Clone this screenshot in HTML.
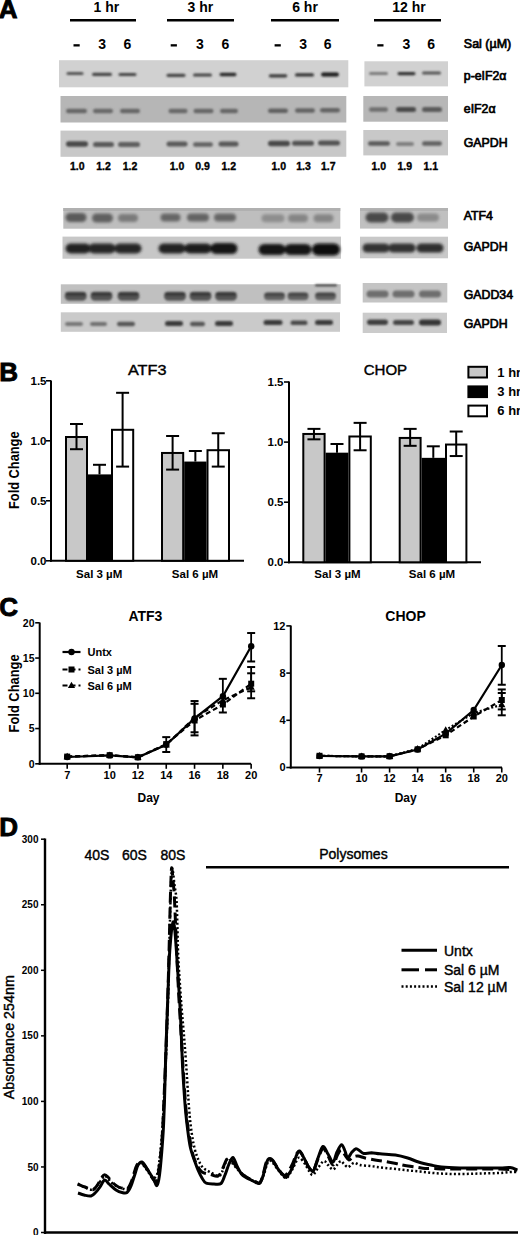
<!DOCTYPE html>
<html><head><meta charset="utf-8"><title>Figure</title>
<style>
html,body{margin:0;padding:0;background:#fff;}
body{width:520px;height:1235px;overflow:hidden;}
svg{display:block;}
text{font-family:"Liberation Sans",sans-serif;fill:#000;}
.h{stroke:#000;stroke-width:0.4px;}
</style></head><body>
<svg width="520" height="1235" viewBox="0 0 520 1235">
<defs><filter id="bl" x="-20%" y="-100%" width="140%" height="300%"><feGaussianBlur stdDeviation="1.0"/></filter><filter id="bl2" x="-20%" y="-100%" width="140%" height="300%"><feGaussianBlur stdDeviation="1.7"/></filter></defs>
<text x="-1.3" y="17.6" font-size="26" font-weight="bold" text-anchor="start" stroke="#000" stroke-width="0.9">A</text>
<text x="106.3" y="11.5" font-size="14" font-weight="bold" text-anchor="middle" >1 hr</text>
<line x1="70" y1="20.3" x2="136" y2="20.3" stroke="#000" stroke-width="2.6" />
<text x="200.4" y="11.5" font-size="14" font-weight="bold" text-anchor="middle" >3 hr</text>
<line x1="167" y1="20.3" x2="234" y2="20.3" stroke="#000" stroke-width="2.6" />
<text x="305" y="11.5" font-size="14" font-weight="bold" text-anchor="middle" >6 hr</text>
<line x1="271" y1="20.3" x2="339" y2="20.3" stroke="#000" stroke-width="2.6" />
<text x="409" y="11.5" font-size="14" font-weight="bold" text-anchor="middle" >12 hr</text>
<line x1="374" y1="20.3" x2="441" y2="20.3" stroke="#000" stroke-width="2.6" />
<rect x="73.5" y="44.2" width="6.2" height="2.3" fill="#000" />
<text x="102.2" y="49" font-size="14" font-weight="bold" text-anchor="middle" >3</text>
<text x="127.5" y="49" font-size="14" font-weight="bold" text-anchor="middle" >6</text>
<rect x="170.70000000000002" y="44.2" width="6.2" height="2.3" fill="#000" />
<text x="200" y="49" font-size="14" font-weight="bold" text-anchor="middle" >3</text>
<text x="225.3" y="49" font-size="14" font-weight="bold" text-anchor="middle" >6</text>
<rect x="274.59999999999997" y="44.2" width="6.2" height="2.3" fill="#000" />
<text x="303.1" y="49" font-size="14" font-weight="bold" text-anchor="middle" >3</text>
<text x="327.7" y="49" font-size="14" font-weight="bold" text-anchor="middle" >6</text>
<rect x="377.29999999999995" y="44.2" width="6.2" height="2.3" fill="#000" />
<text x="406.5" y="49" font-size="14" font-weight="bold" text-anchor="middle" >3</text>
<text x="431.2" y="49" font-size="14" font-weight="bold" text-anchor="middle" >6</text>
<text x="463.8" y="47.5" font-size="12.5" font-weight="normal" text-anchor="start" class="h" style="stroke-width:0.7px">Sal (µM)</text>
<rect x="59" y="60.2" width="289.3" height="27.1" fill="#d1d1d1" />
<rect x="364.4" y="61.3" width="83.6" height="25.1" fill="#d1d1d1" />
<rect x="60.5" y="96" width="285.8" height="26.5" fill="#b6b6b6" />
<rect x="363.3" y="96" width="84.7" height="25.7" fill="#b7b7b7" />
<rect x="60.5" y="130.6" width="285.8" height="26.2" fill="#c8c8c8" />
<rect x="363.3" y="130" width="84.7" height="25.4" fill="#c8c8c8" />
<rect x="63.3" y="208" width="277.0" height="20.7" fill="#bebebe" />
<rect x="360" y="208" width="88" height="20.6" fill="#c0c0c0" />
<rect x="62.5" y="236.6" width="278.5" height="22.1" fill="#c7c7c7" />
<rect x="360" y="236.7" width="88" height="21.6" fill="#c8c8c8" />
<rect x="60.8" y="284.3" width="279.9" height="19.5" fill="#c0c0c0" />
<rect x="362.7" y="283" width="84.6" height="19.5" fill="#c4c4c4" />
<rect x="60.8" y="312.3" width="279.2" height="19.5" fill="#cacaca" />
<rect x="362.7" y="312.7" width="84.3" height="20.3" fill="#cbcbcb" />
<rect x="63.3" y="208" width="277" height="3" fill="#b0b0b0" />
<rect x="360" y="208" width="88" height="3" fill="#b2b2b2" />
<g filter="url(#bl)">
<rect x="66.5" y="72.0" width="17" height="3" rx="1.5" fill="#555555"/>
<rect x="92.0" y="72.7" width="20" height="3.2" rx="1.6" fill="#444444"/>
<rect x="118.5" y="72.9" width="18" height="3.2" rx="1.6" fill="#444444"/>
<rect x="166.5" y="73.7" width="19" height="3.2" rx="1.6" fill="#454545"/>
<rect x="193.0" y="73.4" width="19" height="3.2" rx="1.6" fill="#454545"/>
<rect x="219.5" y="72.7" width="17" height="3.6" rx="1.8" fill="#2a2a2a"/>
<rect x="268.8" y="74.2" width="18.5" height="3.2" rx="1.6" fill="#3a3a3a"/>
<rect x="295.0" y="73.3" width="19" height="3.2" rx="1.6" fill="#353535"/>
<rect x="321.0" y="72.5" width="18" height="4" rx="2.0" fill="#1a1a1a"/>
<rect x="369.0" y="72.1" width="19" height="3" rx="1.5" fill="#7a7a7a"/>
<rect x="397.5" y="71.9" width="18" height="3.4" rx="1.7" fill="#333333"/>
<rect x="422.0" y="71.5" width="19" height="3" rx="1.5" fill="#555555"/>
<rect x="66.0" y="108.8" width="21" height="4.5" rx="2.2" fill="#666666"/>
<rect x="93.0" y="108.8" width="20" height="4.5" rx="2.2" fill="#686868"/>
<rect x="120.0" y="108.8" width="20" height="4.5" rx="2.2" fill="#666666"/>
<rect x="168.5" y="108.8" width="19" height="4.5" rx="2.2" fill="#686868"/>
<rect x="193.5" y="108.8" width="20" height="4.5" rx="2.2" fill="#666666"/>
<rect x="220.0" y="108.8" width="18" height="4.5" rx="2.2" fill="#666666"/>
<rect x="268.0" y="108.5" width="20" height="4.5" rx="2.2" fill="#606060"/>
<rect x="295.0" y="108.2" width="20" height="4.5" rx="2.2" fill="#646464"/>
<rect x="320.0" y="108.0" width="20" height="4.5" rx="2.2" fill="#646464"/>
<rect x="369.0" y="107.2" width="19" height="4.5" rx="2.2" fill="#6e6e6e"/>
<rect x="396.0" y="107.0" width="20" height="5" rx="2.5" fill="#4a4a4a"/>
<rect x="422.0" y="107.0" width="20" height="5" rx="2.5" fill="#5a5a5a"/>
<rect x="66.0" y="141.2" width="22" height="5.5" rx="2.8" fill="#4a4a4a"/>
<rect x="93.0" y="142.0" width="21" height="5" rx="2.5" fill="#5a5a5a"/>
<rect x="118.0" y="142.0" width="22" height="5" rx="2.5" fill="#5e5e5e"/>
<rect x="166.5" y="141.5" width="21" height="5" rx="2.5" fill="#5a5a5a"/>
<rect x="193.0" y="142.2" width="20" height="4.5" rx="2.2" fill="#646464"/>
<rect x="218.5" y="141.5" width="20" height="5" rx="2.5" fill="#585858"/>
<rect x="268.0" y="140.8" width="22" height="5.5" rx="2.8" fill="#4a4a4a"/>
<rect x="292.0" y="140.8" width="22" height="5" rx="2.5" fill="#525252"/>
<rect x="318.0" y="140.5" width="22" height="5" rx="2.5" fill="#525252"/>
<rect x="368.0" y="141.3" width="22" height="4.5" rx="2.2" fill="#5a5a5a"/>
<rect x="396.0" y="142.0" width="18" height="4" rx="2.0" fill="#808080"/>
<rect x="422.0" y="141.3" width="20" height="4.5" rx="2.2" fill="#626262"/>
<rect x="64.7" y="291.7" width="22" height="9" rx="4.5" fill="#555555"/>
<rect x="65.2" y="292.2" width="21" height="3.5" rx="1.8" fill="#383838"/>
<rect x="90.5" y="291.7" width="22" height="9" rx="4.5" fill="#555555"/>
<rect x="91.0" y="292.2" width="21" height="3.5" rx="1.8" fill="#383838"/>
<rect x="117.5" y="291.7" width="22" height="9" rx="4.5" fill="#555555"/>
<rect x="118.0" y="292.2" width="21" height="3.5" rx="1.8" fill="#383838"/>
<rect x="164.0" y="291.7" width="22" height="9" rx="4.5" fill="#555555"/>
<rect x="164.5" y="292.2" width="21" height="3.5" rx="1.8" fill="#383838"/>
<rect x="189.5" y="291.7" width="22" height="9" rx="4.5" fill="#555555"/>
<rect x="190.0" y="292.2" width="21" height="3.5" rx="1.8" fill="#383838"/>
<rect x="215.0" y="291.7" width="22" height="9" rx="4.5" fill="#555555"/>
<rect x="215.5" y="292.2" width="21" height="3.5" rx="1.8" fill="#383838"/>
<rect x="264.0" y="292.3" width="21" height="8" rx="4.0" fill="#606060"/>
<rect x="264.5" y="293.0" width="20" height="3" rx="1.5" fill="#454545"/>
<rect x="287.5" y="292.3" width="21" height="8" rx="4.0" fill="#606060"/>
<rect x="288.0" y="293.0" width="20" height="3" rx="1.5" fill="#454545"/>
<rect x="315.0" y="292.3" width="21" height="8" rx="4.0" fill="#606060"/>
<rect x="315.5" y="293.0" width="20" height="3" rx="1.5" fill="#454545"/>
<rect x="315.0" y="284.4" width="22" height="1.8" rx="0.9" fill="#2a2a2a"/>
<rect x="366.5" y="290.5" width="22" height="7" rx="3.5" fill="#6e6e6e"/>
<rect x="392.5" y="290.5" width="22" height="7" rx="3.5" fill="#6e6e6e"/>
<rect x="419.0" y="290.5" width="22" height="7" rx="3.5" fill="#6e6e6e"/>
<rect x="65.0" y="322.0" width="18" height="4" rx="2.0" fill="#777777"/>
<rect x="90.0" y="322.0" width="17" height="4" rx="2.0" fill="#707070"/>
<rect x="117.0" y="321.8" width="18" height="4.5" rx="2.2" fill="#555555"/>
<rect x="165.0" y="321.0" width="18" height="5" rx="2.5" fill="#3a3a3a"/>
<rect x="190.0" y="321.8" width="15" height="4.5" rx="2.2" fill="#555555"/>
<rect x="215.0" y="321.0" width="18" height="5" rx="2.5" fill="#3a3a3a"/>
<rect x="263.5" y="319.9" width="19" height="5" rx="2.5" fill="#3a3a3a"/>
<rect x="290.5" y="320.6" width="17" height="4.5" rx="2.2" fill="#4a4a4a"/>
<rect x="315.0" y="319.9" width="18" height="5" rx="2.5" fill="#3a3a3a"/>
<rect x="367.0" y="319.6" width="21" height="5.5" rx="2.8" fill="#404040"/>
<rect x="393.0" y="320.1" width="21" height="5" rx="2.5" fill="#454545"/>
<rect x="419.0" y="319.6" width="22" height="6" rx="3.0" fill="#353535"/>
</g>
<g filter="url(#bl2)">
<rect x="65.5" y="213.0" width="21" height="9" rx="4.5" fill="#5a5a5a"/>
<rect x="92.0" y="213.5" width="21" height="9" rx="4.5" fill="#606060"/>
<rect x="118.0" y="214.0" width="20" height="8" rx="4.0" fill="#7a7a7a"/>
<rect x="160.5" y="213.5" width="20" height="8" rx="4.0" fill="#666666"/>
<rect x="187.0" y="213.5" width="22" height="8" rx="4.0" fill="#646464"/>
<rect x="214.0" y="213.5" width="22" height="8" rx="4.0" fill="#666666"/>
<rect x="261.5" y="214.3" width="23" height="8" rx="4.0" fill="#8e8e8e"/>
<rect x="288.0" y="214.3" width="20" height="8" rx="4.0" fill="#858585"/>
<rect x="313.5" y="214.3" width="20" height="8" rx="4.0" fill="#858585"/>
<rect x="365.5" y="212.5" width="23" height="10" rx="5.0" fill="#4a4a4a"/>
<rect x="391.0" y="212.5" width="23" height="10" rx="5.0" fill="#4a4a4a"/>
<rect x="417.0" y="213.5" width="22" height="8" rx="4.0" fill="#8a8a8a"/>
<rect x="65.5" y="243.5" width="25" height="10" rx="5.0" fill="#222222"/>
<rect x="88.5" y="243.5" width="27" height="10" rx="5.0" fill="#252525"/>
<rect x="114.5" y="243.5" width="27" height="10" rx="5.0" fill="#252525"/>
<rect x="158.5" y="243.5" width="27" height="10" rx="5.0" fill="#222222"/>
<rect x="184.5" y="243.5" width="27" height="10" rx="5.0" fill="#1e1e1e"/>
<rect x="210.5" y="243.0" width="27" height="11" rx="5.5" fill="#181818"/>
<rect x="258.5" y="244.0" width="27" height="11" rx="5.5" fill="#161616"/>
<rect x="284.5" y="244.0" width="27" height="11" rx="5.5" fill="#121212"/>
<rect x="312.0" y="243.5" width="28" height="12" rx="6.0" fill="#080808"/>
<rect x="362.5" y="243.5" width="27" height="9" rx="4.5" fill="#333333"/>
<rect x="388.5" y="243.5" width="27" height="9" rx="4.5" fill="#333333"/>
<rect x="416.5" y="243.5" width="27" height="9" rx="4.5" fill="#2e2e2e"/>
</g>
<text x="463.8" y="79.75" font-size="12.3" font-weight="normal" text-anchor="start" class="h" style="stroke-width:0.7px">p-eIF2α</text>
<text x="463.8" y="113.1" font-size="12.3" font-weight="normal" text-anchor="start" class="h" style="stroke-width:0.7px">eIF2α</text>
<text x="463.8" y="146.9" font-size="12.3" font-weight="normal" text-anchor="start" class="h" style="stroke-width:0.7px">GAPDH</text>
<text x="463.8" y="219.8" font-size="12.3" font-weight="normal" text-anchor="start" class="h" style="stroke-width:0.7px">ATF4</text>
<text x="463.8" y="251.3" font-size="12.3" font-weight="normal" text-anchor="start" class="h" style="stroke-width:0.7px">GAPDH</text>
<text x="463.8" y="299.4" font-size="12.3" font-weight="normal" text-anchor="start" class="h" style="stroke-width:0.7px">GADD34</text>
<text x="463.8" y="327.5" font-size="12.3" font-weight="normal" text-anchor="start" class="h" style="stroke-width:0.7px">GAPDH</text>
<text x="77.3" y="170" font-size="10.5" font-weight="bold" text-anchor="middle" stroke="#000" stroke-width="0.35">1.0</text>
<text x="103.5" y="170" font-size="10.5" font-weight="bold" text-anchor="middle" stroke="#000" stroke-width="0.35">1.2</text>
<text x="130" y="170" font-size="10.5" font-weight="bold" text-anchor="middle" stroke="#000" stroke-width="0.35">1.2</text>
<text x="177" y="170" font-size="10.5" font-weight="bold" text-anchor="middle" stroke="#000" stroke-width="0.35">1.0</text>
<text x="202.6" y="170" font-size="10.5" font-weight="bold" text-anchor="middle" stroke="#000" stroke-width="0.35">0.9</text>
<text x="228.7" y="170" font-size="10.5" font-weight="bold" text-anchor="middle" stroke="#000" stroke-width="0.35">1.2</text>
<text x="278.7" y="170" font-size="10.5" font-weight="bold" text-anchor="middle" stroke="#000" stroke-width="0.35">1.0</text>
<text x="303.6" y="170" font-size="10.5" font-weight="bold" text-anchor="middle" stroke="#000" stroke-width="0.35">1.3</text>
<text x="328.2" y="170" font-size="10.5" font-weight="bold" text-anchor="middle" stroke="#000" stroke-width="0.35">1.7</text>
<text x="378.7" y="170" font-size="10.5" font-weight="bold" text-anchor="middle" stroke="#000" stroke-width="0.35">1.0</text>
<text x="404.8" y="170" font-size="10.5" font-weight="bold" text-anchor="middle" stroke="#000" stroke-width="0.35">1.9</text>
<text x="430.8" y="170" font-size="10.5" font-weight="bold" text-anchor="middle" stroke="#000" stroke-width="0.35">1.1</text>
<text x="-0.8" y="380.7" font-size="26" font-weight="bold" text-anchor="start" stroke="#000" stroke-width="0.9">B</text>
<line x1="51" y1="380.5" x2="51" y2="561.8" stroke="#000" stroke-width="2" />
<line x1="50" y1="560.8" x2="244" y2="560.8" stroke="#000" stroke-width="2" />
<line x1="46" y1="560.8" x2="51" y2="560.8" stroke="#000" stroke-width="1.6" />
<text x="46.5" y="564.9" font-size="11.5" font-weight="bold" text-anchor="end" >0.0</text>
<line x1="46" y1="500.79999999999995" x2="51" y2="500.79999999999995" stroke="#000" stroke-width="1.6" />
<text x="46.5" y="504.9" font-size="11.5" font-weight="bold" text-anchor="end" >0.5</text>
<line x1="46" y1="440.79999999999995" x2="51" y2="440.79999999999995" stroke="#000" stroke-width="1.6" />
<text x="46.5" y="444.9" font-size="11.5" font-weight="bold" text-anchor="end" >1.0</text>
<line x1="46" y1="380.79999999999995" x2="51" y2="380.79999999999995" stroke="#000" stroke-width="1.6" />
<text x="46.5" y="384.9" font-size="11.5" font-weight="bold" text-anchor="end" >1.5</text>
<rect x="66" y="436.99999999999994" width="21" height="123.80000000000001" fill="#c8c8c8" stroke="#000" stroke-width="2"/>
<line x1="76.5" y1="424.0" x2="76.5" y2="449.19999999999993" stroke="#000" stroke-width="2" />
<line x1="70.0" y1="424.0" x2="83.0" y2="424.0" stroke="#000" stroke-width="2" />
<line x1="70.0" y1="449.19999999999993" x2="83.0" y2="449.19999999999993" stroke="#000" stroke-width="2" />
<rect x="89" y="475.4" width="21" height="85.39999999999998" fill="#000" stroke="#000" stroke-width="2"/>
<line x1="99.5" y1="464.79999999999995" x2="99.5" y2="474.4" stroke="#000" stroke-width="2" />
<line x1="93.0" y1="464.79999999999995" x2="106.0" y2="464.79999999999995" stroke="#000" stroke-width="2" />
<rect x="112" y="429.79999999999995" width="21.19999999999999" height="131.0" fill="#fff" stroke="#000" stroke-width="2"/>
<line x1="122.6" y1="392.79999999999995" x2="122.6" y2="466.59999999999997" stroke="#000" stroke-width="2" />
<line x1="116.1" y1="392.79999999999995" x2="129.1" y2="392.79999999999995" stroke="#000" stroke-width="2" />
<line x1="116.1" y1="466.59999999999997" x2="129.1" y2="466.59999999999997" stroke="#000" stroke-width="2" />
<rect x="162" y="452.9599999999999" width="21.19999999999999" height="107.84000000000003" fill="#c8c8c8" stroke="#000" stroke-width="2"/>
<line x1="172.6" y1="435.99999999999994" x2="172.6" y2="469.59999999999997" stroke="#000" stroke-width="2" />
<line x1="166.1" y1="435.99999999999994" x2="179.1" y2="435.99999999999994" stroke="#000" stroke-width="2" />
<line x1="166.1" y1="469.59999999999997" x2="179.1" y2="469.59999999999997" stroke="#000" stroke-width="2" />
<rect x="185.2" y="462.55999999999995" width="20.30000000000001" height="98.24000000000001" fill="#000" stroke="#000" stroke-width="2"/>
<line x1="195.35" y1="450.99999999999994" x2="195.35" y2="461.55999999999995" stroke="#000" stroke-width="2" />
<line x1="188.85" y1="450.99999999999994" x2="201.85" y2="450.99999999999994" stroke="#000" stroke-width="2" />
<rect x="207.5" y="450.19999999999993" width="21.5" height="110.60000000000002" fill="#fff" stroke="#000" stroke-width="2"/>
<line x1="218.25" y1="433.23999999999995" x2="218.25" y2="466.59999999999997" stroke="#000" stroke-width="2" />
<line x1="211.75" y1="433.23999999999995" x2="224.75" y2="433.23999999999995" stroke="#000" stroke-width="2" />
<line x1="211.75" y1="466.59999999999997" x2="224.75" y2="466.59999999999997" stroke="#000" stroke-width="2" />
<text x="147.2" y="374.5" font-size="14.5" font-weight="normal" text-anchor="middle" class="h" textLength="38.5" lengthAdjust="spacingAndGlyphs">ATF3</text>
<text x="99.2" y="577.8" font-size="11.5" font-weight="bold" text-anchor="middle" >Sal 3 µM</text>
<text x="195" y="577.8" font-size="11.5" font-weight="bold" text-anchor="middle" >Sal 6 µM</text>
<line x1="289" y1="381.5" x2="289" y2="563.3" stroke="#000" stroke-width="2" />
<line x1="288" y1="562.3" x2="481" y2="562.3" stroke="#000" stroke-width="2" />
<line x1="284" y1="562.3" x2="289" y2="562.3" stroke="#000" stroke-width="1.6" />
<text x="283.5" y="566.4" font-size="11.5" font-weight="bold" text-anchor="end" >0.0</text>
<line x1="284" y1="502.19999999999993" x2="289" y2="502.19999999999993" stroke="#000" stroke-width="1.6" />
<text x="283.5" y="506.29999999999995" font-size="11.5" font-weight="bold" text-anchor="end" >0.5</text>
<line x1="284" y1="442.09999999999997" x2="289" y2="442.09999999999997" stroke="#000" stroke-width="1.6" />
<text x="283.5" y="446.2" font-size="11.5" font-weight="bold" text-anchor="end" >1.0</text>
<line x1="284" y1="381.99999999999994" x2="289" y2="381.99999999999994" stroke="#000" stroke-width="1.6" />
<text x="283.5" y="386.09999999999997" font-size="11.5" font-weight="bold" text-anchor="end" >1.5</text>
<rect x="303.3" y="433.96479999999997" width="21.30000000000001" height="128.3352" fill="#c8c8c8" stroke="#000" stroke-width="2"/>
<line x1="313.95000000000005" y1="428.87799999999993" x2="313.95000000000005" y2="439.33539999999994" stroke="#000" stroke-width="2" />
<line x1="307.45000000000005" y1="428.87799999999993" x2="320.45000000000005" y2="428.87799999999993" stroke="#000" stroke-width="2" />
<line x1="307.45000000000005" y1="439.33539999999994" x2="320.45000000000005" y2="439.33539999999994" stroke="#000" stroke-width="2" />
<rect x="326.6" y="453.6775999999999" width="20.799999999999955" height="108.62240000000003" fill="#000" stroke="#000" stroke-width="2"/>
<line x1="337.0" y1="444.0232" x2="337.0" y2="452.6775999999999" stroke="#000" stroke-width="2" />
<line x1="330.5" y1="444.0232" x2="343.5" y2="444.0232" stroke="#000" stroke-width="2" />
<rect x="349.4" y="436.489" width="21.400000000000034" height="125.81099999999998" fill="#fff" stroke="#000" stroke-width="2"/>
<line x1="360.1" y1="422.86799999999994" x2="360.1" y2="450.27359999999993" stroke="#000" stroke-width="2" />
<line x1="353.6" y1="422.86799999999994" x2="366.6" y2="422.86799999999994" stroke="#000" stroke-width="2" />
<line x1="353.6" y1="450.27359999999993" x2="366.6" y2="450.27359999999993" stroke="#000" stroke-width="2" />
<rect x="399.7" y="437.93139999999994" width="20.900000000000034" height="124.36860000000001" fill="#c8c8c8" stroke="#000" stroke-width="2"/>
<line x1="410.15" y1="428.87799999999993" x2="410.15" y2="445.8262" stroke="#000" stroke-width="2" />
<line x1="403.65" y1="428.87799999999993" x2="416.65" y2="428.87799999999993" stroke="#000" stroke-width="2" />
<line x1="403.65" y1="445.8262" x2="416.65" y2="445.8262" stroke="#000" stroke-width="2" />
<rect x="422.6" y="458.84619999999995" width="21.399999999999977" height="103.4538" fill="#000" stroke="#000" stroke-width="2"/>
<line x1="433.3" y1="446.30699999999996" x2="433.3" y2="457.84619999999995" stroke="#000" stroke-width="2" />
<line x1="426.8" y1="446.30699999999996" x2="439.8" y2="446.30699999999996" stroke="#000" stroke-width="2" />
<rect x="446" y="444.54239999999993" width="20.399999999999977" height="117.75760000000002" fill="#fff" stroke="#000" stroke-width="2"/>
<line x1="456.2" y1="431.52239999999995" x2="456.2" y2="456.04319999999996" stroke="#000" stroke-width="2" />
<line x1="449.7" y1="431.52239999999995" x2="462.7" y2="431.52239999999995" stroke="#000" stroke-width="2" />
<line x1="449.7" y1="456.04319999999996" x2="462.7" y2="456.04319999999996" stroke="#000" stroke-width="2" />
<text x="385.4" y="374.5" font-size="14.5" font-weight="normal" text-anchor="middle" class="h" textLength="43.5" lengthAdjust="spacingAndGlyphs">CHOP</text>
<text x="337.5" y="577.8" font-size="11.5" font-weight="bold" text-anchor="middle" >Sal 3 µM</text>
<text x="432" y="577.8" font-size="11.5" font-weight="bold" text-anchor="middle" >Sal 6 µM</text>
<rect x="468.4" y="366.8" width="18.6" height="10.7" fill="#c8c8c8" stroke="#000" stroke-width="2"/>
<text x="497.3" y="376.5" font-size="13" font-weight="bold" text-anchor="start" >1 hr</text>
<rect x="468.4" y="386.4" width="18.6" height="10.7" fill="#000" stroke="#000" stroke-width="2"/>
<text x="497.3" y="396.2" font-size="13" font-weight="bold" text-anchor="start" >3 hr</text>
<rect x="468.4" y="405.6" width="18.6" height="10.7" fill="#fff" stroke="#000" stroke-width="2"/>
<text x="497.3" y="415.4" font-size="13" font-weight="bold" text-anchor="start" >6 hr</text>
<text x="0" y="0" font-size="14.6" font-weight="bold" transform="translate(19.3,470.2) rotate(-90)" text-anchor="middle" textLength="77.5" lengthAdjust="spacingAndGlyphs">Fold Change</text>
<text x="-0.8" y="615.5" font-size="26" font-weight="bold" text-anchor="start" stroke="#000" stroke-width="0.9">C</text>
<line x1="39.7" y1="622.5" x2="39.7" y2="764.8" stroke="#000" stroke-width="2" />
<line x1="38.7" y1="763.8" x2="251" y2="763.8" stroke="#000" stroke-width="2" />
<line x1="35.2" y1="763.8" x2="39.7" y2="763.8" stroke="#000" stroke-width="1.6" />
<text x="34.5" y="767.5799999999999" font-size="10.5" font-weight="bold" text-anchor="end" >0</text>
<line x1="35.2" y1="728.55" x2="39.7" y2="728.55" stroke="#000" stroke-width="1.6" />
<text x="34.5" y="732.3299999999999" font-size="10.5" font-weight="bold" text-anchor="end" >5</text>
<line x1="35.2" y1="693.3" x2="39.7" y2="693.3" stroke="#000" stroke-width="1.6" />
<text x="34.5" y="697.0799999999999" font-size="10.5" font-weight="bold" text-anchor="end" >10</text>
<line x1="35.2" y1="658.05" x2="39.7" y2="658.05" stroke="#000" stroke-width="1.6" />
<text x="34.5" y="661.8299999999999" font-size="10.5" font-weight="bold" text-anchor="end" >15</text>
<line x1="35.2" y1="622.8" x2="39.7" y2="622.8" stroke="#000" stroke-width="1.6" />
<text x="34.5" y="626.5799999999999" font-size="10.5" font-weight="bold" text-anchor="end" >20</text>
<line x1="67.2" y1="763.8" x2="67.2" y2="768.8" stroke="#000" stroke-width="1.6" />
<text x="67.2" y="778.5" font-size="11" font-weight="bold" text-anchor="middle" >7</text>
<line x1="109.65" y1="763.8" x2="109.65" y2="768.8" stroke="#000" stroke-width="1.6" />
<text x="109.65" y="778.5" font-size="11" font-weight="bold" text-anchor="middle" >10</text>
<line x1="137.95" y1="763.8" x2="137.95" y2="768.8" stroke="#000" stroke-width="1.6" />
<text x="137.95" y="778.5" font-size="11" font-weight="bold" text-anchor="middle" >12</text>
<line x1="166.25" y1="763.8" x2="166.25" y2="768.8" stroke="#000" stroke-width="1.6" />
<text x="166.25" y="778.5" font-size="11" font-weight="bold" text-anchor="middle" >14</text>
<line x1="194.55" y1="763.8" x2="194.55" y2="768.8" stroke="#000" stroke-width="1.6" />
<text x="194.55" y="778.5" font-size="11" font-weight="bold" text-anchor="middle" >16</text>
<line x1="222.85000000000002" y1="763.8" x2="222.85000000000002" y2="768.8" stroke="#000" stroke-width="1.6" />
<text x="222.85000000000002" y="778.5" font-size="11" font-weight="bold" text-anchor="middle" >18</text>
<line x1="251.15000000000003" y1="763.8" x2="251.15000000000003" y2="768.8" stroke="#000" stroke-width="1.6" />
<text x="251.15000000000003" y="778.5" font-size="11" font-weight="bold" text-anchor="middle" >20</text>
<text x="148.5" y="802" font-size="12" font-weight="bold" text-anchor="middle" >Day</text>
<text x="145.4" y="620.5" font-size="14" font-weight="bold" text-anchor="middle" >ATF3</text>
<polyline points="67.2,757.0 109.7,755.4 137.9,757.3 166.2,744.8 194.6,718.4 222.9,696.2 251.2,646.2" fill="none" stroke="#000" stroke-width="2.2" />
<circle cx="67.2" cy="757.0" r="3.2" fill="#000"/>
<circle cx="109.7" cy="755.4" r="3.2" fill="#000"/>
<circle cx="137.9" cy="757.3" r="3.2" fill="#000"/>
<circle cx="166.2" cy="744.8" r="3.2" fill="#000"/>
<circle cx="194.6" cy="718.4" r="3.2" fill="#000"/>
<circle cx="222.9" cy="696.2" r="3.2" fill="#000"/>
<circle cx="251.2" cy="646.2" r="3.2" fill="#000"/>
<polyline points="67.2,756.6 109.7,755.2 137.9,757.3 166.2,744.1 194.6,720.5 222.9,704.5 251.2,683.7" fill="none" stroke="#000" stroke-width="2.2" stroke-dasharray="5,3"/>
<rect x="64.2" y="753.6" width="6" height="6" fill="#000"/>
<rect x="106.7" y="752.2" width="6" height="6" fill="#000"/>
<rect x="134.9" y="754.3" width="6" height="6" fill="#000"/>
<rect x="163.2" y="741.1" width="6" height="6" fill="#000"/>
<rect x="191.6" y="717.5" width="6" height="6" fill="#000"/>
<rect x="219.9" y="701.5" width="6" height="6" fill="#000"/>
<rect x="248.2" y="680.7" width="6" height="6" fill="#000"/>
<polyline points="67.2,756.6 109.7,755.2 137.9,757.3 166.2,744.8 194.6,717.7 222.9,700.3 251.2,687.2" fill="none" stroke="#000" stroke-width="2.2" stroke-dasharray="5,3"/>
<polygon points="67.2,752.8 70.8,759.2 63.6,759.2" fill="#000"/>
<polygon points="109.7,751.4 113.2,757.8 106.1,757.8" fill="#000"/>
<polygon points="137.9,753.5 141.5,759.9 134.3,759.9" fill="#000"/>
<polygon points="166.2,741.0 169.8,747.4 162.7,747.4" fill="#000"/>
<polygon points="194.6,713.9 198.2,720.3 191.0,720.3" fill="#000"/>
<polygon points="222.9,696.5 226.5,702.9 219.3,702.9" fill="#000"/>
<polygon points="251.2,683.4 254.8,689.8 247.6,689.8" fill="#000"/>
<line x1="166.25" y1="751.9796" x2="166.25" y2="737.128" stroke="#000" stroke-width="1.8" />
<line x1="162.25" y1="751.9796" x2="170.25" y2="751.9796" stroke="#000" stroke-width="2" />
<line x1="162.25" y1="737.128" x2="170.25" y2="737.128" stroke="#000" stroke-width="2" />
<line x1="194.55" y1="732.27" x2="194.55" y2="701.04" stroke="#000" stroke-width="1.8" />
<line x1="190.55" y1="732.27" x2="198.55" y2="732.27" stroke="#000" stroke-width="2" />
<line x1="190.55" y1="701.04" x2="198.55" y2="701.04" stroke="#000" stroke-width="2" />
<line x1="194.55" y1="735.393" x2="194.55" y2="703.816" stroke="#000" stroke-width="1.8" />
<line x1="190.55" y1="735.393" x2="198.55" y2="735.393" stroke="#000" stroke-width="2" />
<line x1="190.55" y1="703.816" x2="198.55" y2="703.816" stroke="#000" stroke-width="2" />
<line x1="222.85000000000002" y1="712.491" x2="222.85000000000002" y2="678.832" stroke="#000" stroke-width="1.8" />
<line x1="218.85000000000002" y1="712.491" x2="226.85000000000002" y2="712.491" stroke="#000" stroke-width="2" />
<line x1="218.85000000000002" y1="678.832" x2="226.85000000000002" y2="678.832" stroke="#000" stroke-width="2" />
<line x1="251.15000000000003" y1="661.482" x2="251.15000000000003" y2="633.028" stroke="#000" stroke-width="1.8" />
<line x1="247.15000000000003" y1="661.482" x2="255.15000000000003" y2="661.482" stroke="#000" stroke-width="2" />
<line x1="247.15000000000003" y1="633.028" x2="255.15000000000003" y2="633.028" stroke="#000" stroke-width="2" />
<line x1="251.15000000000003" y1="691.324" x2="251.15000000000003" y2="667.034" stroke="#000" stroke-width="1.8" />
<line x1="247.15000000000003" y1="691.324" x2="255.15000000000003" y2="691.324" stroke="#000" stroke-width="2" />
<line x1="247.15000000000003" y1="667.034" x2="255.15000000000003" y2="667.034" stroke="#000" stroke-width="2" />
<line x1="251.15000000000003" y1="698.264" x2="251.15000000000003" y2="673.28" stroke="#000" stroke-width="1.8" />
<line x1="247.15000000000003" y1="698.264" x2="255.15000000000003" y2="698.264" stroke="#000" stroke-width="2" />
<line x1="247.15000000000003" y1="673.28" x2="255.15000000000003" y2="673.28" stroke="#000" stroke-width="2" />
<line x1="290.8" y1="625.5" x2="290.8" y2="768.5" stroke="#000" stroke-width="2" />
<line x1="289.8" y1="767.5" x2="502" y2="767.5" stroke="#000" stroke-width="2" />
<line x1="286.3" y1="767.5" x2="290.8" y2="767.5" stroke="#000" stroke-width="1.6" />
<text x="285.5" y="771.46" font-size="11" font-weight="bold" text-anchor="end" >0</text>
<line x1="286.3" y1="720.3" x2="290.8" y2="720.3" stroke="#000" stroke-width="1.6" />
<text x="285.5" y="724.26" font-size="11" font-weight="bold" text-anchor="end" >4</text>
<line x1="286.3" y1="673.1" x2="290.8" y2="673.1" stroke="#000" stroke-width="1.6" />
<text x="285.5" y="677.0600000000001" font-size="11" font-weight="bold" text-anchor="end" >8</text>
<line x1="286.3" y1="625.9" x2="290.8" y2="625.9" stroke="#000" stroke-width="1.6" />
<text x="285.5" y="629.86" font-size="11" font-weight="bold" text-anchor="end" >12</text>
<line x1="319.5" y1="767.5" x2="319.5" y2="772.5" stroke="#000" stroke-width="1.6" />
<text x="319.5" y="782.2" font-size="11" font-weight="bold" text-anchor="middle" >7</text>
<line x1="361.56" y1="767.5" x2="361.56" y2="772.5" stroke="#000" stroke-width="1.6" />
<text x="361.56" y="782.2" font-size="11" font-weight="bold" text-anchor="middle" >10</text>
<line x1="389.6" y1="767.5" x2="389.6" y2="772.5" stroke="#000" stroke-width="1.6" />
<text x="389.6" y="782.2" font-size="11" font-weight="bold" text-anchor="middle" >12</text>
<line x1="417.64" y1="767.5" x2="417.64" y2="772.5" stroke="#000" stroke-width="1.6" />
<text x="417.64" y="782.2" font-size="11" font-weight="bold" text-anchor="middle" >14</text>
<line x1="445.68" y1="767.5" x2="445.68" y2="772.5" stroke="#000" stroke-width="1.6" />
<text x="445.68" y="782.2" font-size="11" font-weight="bold" text-anchor="middle" >16</text>
<line x1="473.72" y1="767.5" x2="473.72" y2="772.5" stroke="#000" stroke-width="1.6" />
<text x="473.72" y="782.2" font-size="11" font-weight="bold" text-anchor="middle" >18</text>
<line x1="501.76" y1="767.5" x2="501.76" y2="772.5" stroke="#000" stroke-width="1.6" />
<text x="501.76" y="782.2" font-size="11" font-weight="bold" text-anchor="middle" >20</text>
<text x="405.7" y="802" font-size="12" font-weight="bold" text-anchor="middle" >Day</text>
<text x="405.6" y="620.5" font-size="14" font-weight="bold" text-anchor="middle" >CHOP</text>
<polyline points="319.5,756.0 361.6,756.4 389.6,756.3 417.6,749.5 445.7,733.7 473.7,710.0 501.8,665.0" fill="none" stroke="#000" stroke-width="2.2" />
<circle cx="319.5" cy="756.0" r="3.2" fill="#000"/>
<circle cx="361.6" cy="756.4" r="3.2" fill="#000"/>
<circle cx="389.6" cy="756.3" r="3.2" fill="#000"/>
<circle cx="417.6" cy="749.5" r="3.2" fill="#000"/>
<circle cx="445.7" cy="733.7" r="3.2" fill="#000"/>
<circle cx="473.7" cy="710.0" r="3.2" fill="#000"/>
<circle cx="501.8" cy="665.0" r="3.2" fill="#000"/>
<polyline points="319.5,755.8 361.6,756.4 389.6,756.3 417.6,749.4 445.7,735.3 473.7,716.5 501.8,700.0" fill="none" stroke="#000" stroke-width="2.2" stroke-dasharray="5,3"/>
<rect x="316.5" y="752.8" width="6" height="6" fill="#000"/>
<rect x="358.6" y="753.4" width="6" height="6" fill="#000"/>
<rect x="386.6" y="753.3" width="6" height="6" fill="#000"/>
<rect x="414.6" y="746.4" width="6" height="6" fill="#000"/>
<rect x="442.7" y="732.3" width="6" height="6" fill="#000"/>
<rect x="470.7" y="713.5" width="6" height="6" fill="#000"/>
<rect x="498.8" y="697.0" width="6" height="6" fill="#000"/>
<polyline points="319.5,755.8 361.6,756.4 389.6,756.3 417.6,748.8 445.7,730.0 473.7,713.0 501.8,704.7" fill="none" stroke="#000" stroke-width="2.2" stroke-dasharray="2,2"/>
<polygon points="319.5,752.0 323.1,758.4 315.9,758.4" fill="#000"/>
<polygon points="361.6,752.6 365.2,759.0 358.0,759.0" fill="#000"/>
<polygon points="389.6,752.5 393.2,758.9 386.0,758.9" fill="#000"/>
<polygon points="417.6,745.0 421.2,751.4 414.0,751.4" fill="#000"/>
<polygon points="445.7,726.2 449.3,732.6 442.1,732.6" fill="#000"/>
<polygon points="473.7,709.2 477.3,715.6 470.1,715.6" fill="#000"/>
<polygon points="501.8,700.9 505.4,707.3 498.2,707.3" fill="#000"/>
<line x1="501.76" y1="684.75" x2="501.76" y2="645.975" stroke="#000" stroke-width="1.8" />
<line x1="497.76" y1="684.75" x2="505.76" y2="684.75" stroke="#000" stroke-width="2" />
<line x1="497.76" y1="645.975" x2="505.76" y2="645.975" stroke="#000" stroke-width="2" />
<line x1="501.76" y1="709.425" x2="501.76" y2="689.45" stroke="#000" stroke-width="1.8" />
<line x1="497.76" y1="709.425" x2="505.76" y2="709.425" stroke="#000" stroke-width="2" />
<line x1="497.76" y1="689.45" x2="505.76" y2="689.45" stroke="#000" stroke-width="2" />
<line x1="501.76" y1="715.3" x2="501.76" y2="692.975" stroke="#000" stroke-width="1.8" />
<line x1="497.76" y1="715.3" x2="505.76" y2="715.3" stroke="#000" stroke-width="2" />
<line x1="497.76" y1="692.975" x2="505.76" y2="692.975" stroke="#000" stroke-width="2" />
<line x1="62.5" y1="652" x2="80.5" y2="652" stroke="#000" stroke-width="2.2" />
<circle cx="71.5" cy="652" r="3.2" fill="#000"/>
<text x="87.5" y="656" font-size="11" font-weight="bold" text-anchor="start" >Untx</text>
<line x1="62.5" y1="669.5" x2="80.5" y2="669.5" stroke="#000" stroke-width="2.2" stroke-dasharray="5,3"/>
<rect x="68.5" y="666.5" width="6" height="6" fill="#000"/>
<text x="87.5" y="673.5" font-size="11" font-weight="bold" text-anchor="start" >Sal 3 µM</text>
<line x1="62.5" y1="685.5" x2="80.5" y2="685.5" stroke="#000" stroke-width="2.2" stroke-dasharray="5,3"/>
<polygon points="71.5,681.7 75.1,688.1 67.9,688.1" fill="#000"/>
<text x="87.5" y="689.5" font-size="11" font-weight="bold" text-anchor="start" >Sal 6 µM</text>
<text x="0" y="0" font-size="14.6" font-weight="bold" transform="translate(19.3,693.4) rotate(-90)" text-anchor="middle" textLength="78" lengthAdjust="spacingAndGlyphs">Fold Change</text>
<text x="-0.7" y="835.7" font-size="26" font-weight="bold" text-anchor="start" stroke="#000" stroke-width="0.9">D</text>
<line x1="45" y1="838.5" x2="45" y2="1234.0" stroke="#000" stroke-width="2.4" />
<line x1="44" y1="1232.5" x2="518" y2="1232.5" stroke="#000" stroke-width="2.6" />
<line x1="41" y1="1232.5" x2="45" y2="1232.5" stroke="#000" stroke-width="1.5" />
<text x="38.5" y="1236.1" font-size="10" font-weight="bold" text-anchor="end" >0</text>
<line x1="41" y1="1166.95" x2="45" y2="1166.95" stroke="#000" stroke-width="1.5" />
<text x="38.5" y="1170.55" font-size="10" font-weight="bold" text-anchor="end" >50</text>
<line x1="41" y1="1101.4" x2="45" y2="1101.4" stroke="#000" stroke-width="1.5" />
<text x="38.5" y="1105.0" font-size="10" font-weight="bold" text-anchor="end" >100</text>
<line x1="41" y1="1035.85" x2="45" y2="1035.85" stroke="#000" stroke-width="1.5" />
<text x="38.5" y="1039.4499999999998" font-size="10" font-weight="bold" text-anchor="end" >150</text>
<line x1="41" y1="970.3" x2="45" y2="970.3" stroke="#000" stroke-width="1.5" />
<text x="38.5" y="973.9" font-size="10" font-weight="bold" text-anchor="end" >200</text>
<line x1="41" y1="904.75" x2="45" y2="904.75" stroke="#000" stroke-width="1.5" />
<text x="38.5" y="908.35" font-size="10" font-weight="bold" text-anchor="end" >250</text>
<line x1="41" y1="839.2" x2="45" y2="839.2" stroke="#000" stroke-width="1.5" />
<text x="38.5" y="842.8000000000001" font-size="10" font-weight="bold" text-anchor="end" >300</text>
<text x="97" y="860" font-size="14" font-weight="normal" text-anchor="middle" class="h" >40S</text>
<text x="134.4" y="860" font-size="14" font-weight="normal" text-anchor="middle" class="h" >60S</text>
<text x="172.9" y="860" font-size="14" font-weight="normal" text-anchor="middle" class="h" >80S</text>
<text x="353.4" y="858.5" font-size="14" font-weight="normal" text-anchor="middle" class="h" >Polysomes</text>
<line x1="206" y1="867.3" x2="509" y2="867.3" stroke="#000" stroke-width="2.6" />
<text class="h" x="0" y="0" font-size="14.6" transform="translate(14.3,1037.2) rotate(-90)" text-anchor="middle" textLength="124" lengthAdjust="spacingAndGlyphs">Absorbance 254nm</text>
<path d="M78.0,1184.5 C79.2,1185.0 82.7,1186.5 85.0,1187.3 C87.3,1188.1 89.8,1190.1 92.0,1189.6 C94.2,1189.1 96.2,1186.5 98.0,1184.5 C99.8,1182.5 101.7,1178.8 103.0,1177.5 C104.3,1176.2 104.5,1175.6 106.0,1176.5 C107.5,1177.4 109.9,1181.2 112.0,1183.0 C114.1,1184.8 116.5,1186.0 118.5,1187.0 C120.5,1188.0 122.4,1188.7 124.0,1189.0 C125.6,1189.3 126.7,1190.3 128.0,1189.0 C129.3,1187.7 130.7,1184.3 132.0,1181.0 C133.3,1177.7 134.7,1172.0 136.0,1169.0 C137.3,1166.0 138.7,1163.5 140.0,1163.0 C141.3,1162.5 142.5,1164.3 144.0,1166.0 C145.5,1167.7 147.5,1171.0 149.0,1173.0 C150.5,1175.0 151.7,1177.7 153.0,1178.0 C154.3,1178.3 155.9,1177.6 157.0,1174.6 C158.1,1171.6 158.8,1165.8 159.5,1160.0 C160.2,1154.2 160.8,1148.3 161.5,1140.0 C162.2,1131.7 162.8,1123.3 163.5,1110.0 C164.2,1096.7 165.1,1078.3 165.8,1060.0 C166.6,1041.7 167.5,1016.7 168.0,1000.0 C168.5,983.3 168.7,973.3 169.0,960.0 C169.3,946.7 169.7,931.7 170.0,920.0 C170.3,908.3 170.5,898.3 170.8,890.0 C171.1,881.7 171.4,873.0 171.8,870.0 C172.2,867.0 172.6,869.5 173.0,872.0 C173.4,874.5 173.9,880.3 174.5,885.0 C175.1,889.7 176.0,892.5 176.5,900.0 C177.0,907.5 177.2,920.0 177.5,930.0 C177.8,940.0 177.8,948.3 178.4,960.0 C179.0,971.7 180.2,988.3 181.0,1000.0 C181.8,1011.7 182.7,1020.0 183.5,1030.0 C184.3,1040.0 184.9,1046.7 185.8,1060.0 C186.8,1073.3 188.2,1097.5 189.2,1110.0 C190.2,1122.5 191.0,1128.3 192.0,1135.0 C193.0,1141.7 193.9,1145.8 195.0,1150.0 C196.1,1154.2 197.2,1157.0 198.5,1160.0 C199.8,1163.0 201.1,1165.7 203.0,1167.7 C204.9,1169.7 207.4,1170.6 210.0,1172.0 C212.6,1173.4 216.5,1176.0 218.5,1176.0 C220.5,1176.0 220.5,1174.9 222.0,1172.0 C223.5,1169.1 226.0,1160.0 227.7,1158.5 C229.4,1157.0 229.9,1160.8 232.0,1163.0 C234.1,1165.2 237.3,1169.5 240.0,1172.0 C242.7,1174.5 245.3,1176.3 248.0,1178.0 C250.7,1179.7 254.0,1181.2 256.0,1182.0 C258.0,1182.8 258.7,1184.3 260.0,1183.0 C261.3,1181.7 262.7,1177.5 264.0,1174.0 C265.3,1170.5 266.7,1164.0 268.0,1162.0 C269.3,1160.0 270.2,1160.5 272.0,1162.0 C273.8,1163.5 276.7,1168.3 279.0,1171.0 C281.3,1173.7 283.8,1178.2 286.0,1178.0 C288.2,1177.8 290.2,1173.0 292.0,1170.0 C293.8,1167.0 295.7,1162.0 297.0,1160.0 C298.3,1158.0 298.7,1157.3 300.0,1158.0 C301.3,1158.7 303.5,1161.8 305.0,1164.0 C306.5,1166.2 307.7,1169.2 309.0,1171.0 C310.3,1172.8 311.5,1175.5 313.0,1175.0 C314.5,1174.5 316.2,1170.3 318.0,1168.0 C319.8,1165.7 322.1,1161.5 323.8,1161.0 C325.5,1160.5 326.5,1163.6 328.0,1165.0 C329.5,1166.4 331.5,1169.6 333.0,1169.6 C334.5,1169.6 335.7,1166.4 337.0,1165.0 C338.3,1163.6 339.6,1161.2 340.8,1161.0 C342.0,1160.8 342.9,1163.0 344.0,1164.0 C345.1,1165.0 346.5,1167.1 347.7,1167.3 C348.9,1167.5 349.9,1165.8 351.0,1165.0 C352.1,1164.2 353.1,1162.7 354.6,1162.7 C356.1,1162.7 357.4,1164.5 360.0,1165.0 C362.6,1165.5 366.7,1165.6 370.0,1166.0 C373.3,1166.4 375.0,1166.7 380.0,1167.3 C385.0,1167.9 393.3,1168.8 400.0,1169.5 C406.7,1170.2 413.3,1170.9 420.0,1171.6 C426.7,1172.3 433.3,1173.1 440.0,1173.5 C446.7,1173.9 453.3,1174.0 460.0,1174.0 C466.7,1174.0 473.3,1173.7 480.0,1173.5 C486.7,1173.3 495.0,1173.2 500.0,1173.0 C505.0,1172.8 507.2,1172.2 510.0,1172.0 C512.8,1171.8 515.8,1172.0 517.0,1172.0" fill="none" stroke="#000" stroke-width="2.5" stroke-dasharray="2,2.3" stroke-linejoin="round"/>
<path d="M77.5,1184.0 C78.8,1184.5 82.4,1186.0 85.0,1187.0 C87.6,1188.0 90.8,1190.3 93.0,1189.8 C95.2,1189.3 96.5,1186.1 98.0,1184.0 C99.5,1181.9 100.9,1178.5 102.0,1177.0 C103.1,1175.5 103.6,1174.8 104.6,1174.8 C105.6,1174.8 106.6,1175.6 108.0,1177.0 C109.4,1178.4 111.2,1181.3 113.0,1183.0 C114.8,1184.7 116.7,1186.1 118.5,1187.0 C120.3,1187.9 122.4,1188.3 124.0,1188.5 C125.6,1188.7 126.7,1189.4 128.0,1188.0 C129.3,1186.6 130.7,1183.5 132.0,1180.0 C133.3,1176.5 134.7,1170.0 136.0,1167.0 C137.3,1164.0 138.7,1162.3 140.0,1162.0 C141.3,1161.7 142.5,1163.3 144.0,1165.0 C145.5,1166.7 147.5,1169.7 149.0,1172.0 C150.5,1174.3 151.8,1177.3 153.0,1179.0 C154.2,1180.7 155.2,1182.7 156.0,1182.0 C156.8,1181.3 157.3,1178.7 158.0,1175.0 C158.7,1171.3 159.3,1165.8 160.0,1160.0 C160.7,1154.2 161.4,1148.3 162.0,1140.0 C162.6,1131.7 162.9,1123.3 163.5,1110.0 C164.1,1096.7 164.9,1078.3 165.6,1060.0 C166.3,1041.7 167.2,1016.7 167.7,1000.0 C168.2,983.3 168.5,973.3 168.8,960.0 C169.2,946.7 169.5,931.7 169.8,920.0 C170.1,908.3 170.3,898.7 170.6,890.0 C170.9,881.3 171.2,869.7 171.6,868.0 C172.0,866.3 172.5,874.7 173.0,880.0 C173.5,885.3 174.0,890.0 174.5,900.0 C175.0,910.0 175.7,928.3 176.2,940.0 C176.7,951.7 177.0,960.0 177.5,970.0 C178.0,980.0 178.2,986.7 179.0,1000.0 C179.8,1013.3 181.1,1035.0 182.0,1050.0 C182.9,1065.0 183.7,1078.3 184.5,1090.0 C185.3,1101.7 186.1,1111.7 187.0,1120.0 C187.9,1128.3 189.0,1134.2 190.0,1140.0 C191.0,1145.8 191.8,1150.8 193.0,1155.0 C194.2,1159.2 195.5,1162.2 197.0,1165.0 C198.5,1167.8 199.7,1170.4 202.0,1172.0 C204.3,1173.6 208.1,1173.9 210.8,1174.6 C213.5,1175.3 216.1,1176.8 218.0,1176.0 C219.9,1175.2 220.5,1172.8 222.0,1170.0 C223.5,1167.2 225.5,1160.7 227.0,1159.0 C228.5,1157.3 229.5,1158.8 231.0,1160.0 C232.5,1161.2 234.3,1163.8 236.0,1166.0 C237.7,1168.2 239.0,1171.0 241.0,1173.0 C243.0,1175.0 245.5,1176.5 248.0,1178.0 C250.5,1179.5 254.0,1181.2 256.0,1182.0 C258.0,1182.8 258.8,1183.7 260.0,1182.5 C261.2,1181.3 262.0,1178.2 263.0,1175.0 C264.0,1171.8 265.0,1165.7 266.0,1163.0 C267.0,1160.3 267.8,1159.3 269.0,1159.0 C270.2,1158.7 271.3,1159.2 273.0,1161.0 C274.7,1162.8 277.0,1167.6 279.0,1170.0 C281.0,1172.4 282.8,1176.3 285.0,1175.5 C287.2,1174.7 290.2,1168.4 292.0,1165.0 C293.8,1161.6 294.8,1157.3 296.0,1155.0 C297.2,1152.7 298.2,1150.5 299.5,1151.0 C300.8,1151.5 302.6,1155.5 304.0,1158.0 C305.4,1160.5 306.5,1163.8 308.0,1166.0 C309.5,1168.2 311.3,1172.2 313.0,1171.0 C314.7,1169.8 316.3,1162.8 318.0,1159.0 C319.7,1155.2 321.3,1149.0 323.0,1148.5 C324.7,1148.0 326.3,1153.2 328.0,1156.0 C329.7,1158.8 331.5,1165.0 333.0,1165.0 C334.5,1165.0 335.7,1158.5 337.0,1156.0 C338.3,1153.5 339.7,1150.2 341.0,1150.0 C342.3,1149.8 343.7,1153.3 345.0,1155.0 C346.3,1156.7 347.7,1159.7 349.0,1160.0 C350.3,1160.3 351.5,1157.7 353.0,1157.0 C354.5,1156.3 356.0,1155.8 358.0,1156.0 C360.0,1156.2 362.2,1157.3 365.0,1158.0 C367.8,1158.7 372.2,1159.5 375.0,1160.0 C377.8,1160.5 378.5,1160.4 382.0,1161.0 C385.5,1161.6 392.2,1162.8 396.0,1163.5 C399.8,1164.2 401.5,1164.9 405.0,1165.5 C408.5,1166.1 413.7,1166.8 417.0,1167.3 C420.3,1167.8 422.2,1168.3 425.0,1168.5 C427.8,1168.7 430.7,1168.4 434.0,1168.5 C437.3,1168.6 439.0,1168.9 445.0,1169.0 C451.0,1169.1 460.8,1169.0 470.0,1169.0 C479.2,1169.0 492.2,1168.8 500.0,1169.0 C507.8,1169.2 514.2,1169.8 517.0,1170.0" fill="none" stroke="#000" stroke-width="3" stroke-dasharray="11,5" stroke-linejoin="round"/>
<path d="M78.0,1193.0 C79.0,1193.3 81.8,1194.5 84.0,1195.0 C86.2,1195.5 89.0,1196.5 91.0,1196.0 C93.0,1195.5 94.5,1193.5 96.0,1192.0 C97.5,1190.5 98.6,1189.0 100.0,1187.0 C101.4,1185.0 103.1,1180.5 104.6,1180.0 C106.1,1179.5 107.1,1182.3 109.0,1184.0 C110.9,1185.7 113.8,1188.6 116.0,1190.0 C118.2,1191.4 120.2,1192.1 122.0,1192.5 C123.8,1192.9 125.5,1193.6 127.0,1192.5 C128.5,1191.4 129.7,1189.1 131.0,1186.0 C132.3,1182.9 133.8,1177.5 135.0,1174.0 C136.2,1170.5 136.8,1167.0 138.0,1165.0 C139.2,1163.0 140.7,1161.7 142.0,1162.0 C143.3,1162.3 144.7,1165.1 146.0,1167.0 C147.3,1168.9 148.7,1171.3 150.0,1173.5 C151.3,1175.7 152.8,1178.0 154.0,1180.0 C155.2,1182.0 156.1,1186.3 157.0,1185.5 C157.9,1184.7 158.8,1180.1 159.5,1175.0 C160.2,1169.9 160.9,1162.5 161.5,1155.0 C162.1,1147.5 162.8,1139.2 163.3,1130.0 C163.8,1120.8 164.1,1111.7 164.5,1100.0 C164.9,1088.3 165.1,1076.7 165.6,1060.0 C166.1,1043.3 167.1,1016.7 167.7,1000.0 C168.3,983.3 168.7,970.0 169.2,960.0 C169.7,950.0 170.1,945.5 170.6,940.0 C171.1,934.5 171.5,930.0 172.0,927.0 C172.5,924.0 173.0,921.2 173.5,922.0 C174.0,922.8 174.5,927.0 175.0,932.0 C175.5,937.0 175.9,944.0 176.5,952.0 C177.1,960.0 177.7,970.3 178.3,980.0 C178.9,989.7 179.7,1000.0 180.2,1010.0 C180.7,1020.0 181.1,1030.8 181.5,1040.0 C181.9,1049.2 182.1,1056.7 182.5,1065.0 C182.9,1073.3 183.5,1082.5 184.0,1090.0 C184.5,1097.5 184.9,1103.3 185.5,1110.0 C186.1,1116.7 186.9,1123.7 187.7,1130.0 C188.5,1136.3 189.4,1143.0 190.5,1148.0 C191.6,1153.0 193.1,1156.3 194.3,1160.0 C195.6,1163.7 196.7,1167.0 198.0,1170.0 C199.3,1173.0 200.7,1175.8 202.0,1178.0 C203.3,1180.2 204.0,1182.0 206.0,1183.0 C208.0,1184.0 211.5,1183.9 214.0,1184.0 C216.5,1184.1 219.2,1185.0 221.0,1183.5 C222.8,1182.0 223.7,1178.2 225.0,1175.0 C226.3,1171.8 227.7,1166.9 229.0,1164.0 C230.3,1161.1 231.7,1157.2 233.0,1157.5 C234.3,1157.8 235.6,1163.2 237.0,1166.0 C238.4,1168.8 240.0,1172.1 241.5,1174.0 C243.0,1175.9 244.4,1176.5 246.0,1177.5 C247.6,1178.5 249.3,1179.2 251.0,1180.0 C252.7,1180.8 254.5,1182.0 256.0,1182.5 C257.5,1183.0 258.8,1184.1 260.0,1183.0 C261.2,1181.9 262.2,1178.4 263.0,1176.0 C263.8,1173.6 264.2,1171.2 265.0,1168.5 C265.8,1165.8 266.8,1160.9 268.0,1159.5 C269.2,1158.1 270.7,1158.2 272.5,1160.0 C274.3,1161.8 276.6,1167.2 278.7,1170.0 C280.8,1172.8 283.6,1175.4 285.0,1176.5 C286.4,1177.6 285.8,1178.0 287.0,1176.5 C288.2,1175.0 291.0,1170.9 292.5,1167.5 C294.0,1164.1 295.0,1158.7 296.2,1156.0 C297.4,1153.3 298.2,1151.2 299.5,1151.5 C300.8,1151.8 302.6,1155.6 304.0,1158.0 C305.4,1160.4 306.7,1163.8 308.0,1166.0 C309.3,1168.2 311.0,1170.3 312.0,1171.0 C313.0,1171.7 313.0,1172.2 314.0,1170.0 C315.0,1167.8 316.5,1161.9 318.0,1158.0 C319.5,1154.1 321.3,1147.2 323.0,1146.5 C324.7,1145.8 326.3,1151.4 328.0,1154.0 C329.7,1156.6 331.5,1162.3 333.0,1162.0 C334.5,1161.7 335.6,1154.9 337.0,1152.0 C338.4,1149.1 340.2,1144.9 341.5,1144.7 C342.8,1144.5 344.0,1148.8 345.0,1151.0 C346.0,1153.2 346.5,1157.8 347.7,1158.0 C348.9,1158.2 350.6,1153.5 352.0,1152.0 C353.4,1150.5 354.7,1149.0 356.0,1148.8 C357.3,1148.6 358.7,1150.2 360.0,1151.0 C361.3,1151.8 361.9,1153.2 363.8,1153.5 C365.7,1153.8 368.8,1152.7 371.5,1152.7 C374.2,1152.8 376.0,1153.4 380.0,1153.8 C384.0,1154.2 390.8,1154.3 395.4,1155.0 C400.0,1155.7 403.8,1156.8 407.7,1158.0 C411.6,1159.2 414.6,1160.8 418.5,1162.0 C422.4,1163.2 427.0,1164.2 430.8,1165.0 C434.6,1165.8 436.6,1166.5 441.5,1167.0 C446.4,1167.5 453.6,1167.8 460.0,1168.0 C466.4,1168.2 473.3,1168.0 480.0,1168.0 C486.7,1168.0 495.0,1168.1 500.0,1168.0 C505.0,1167.9 507.1,1167.2 510.0,1167.5 C512.9,1167.8 516.2,1169.6 517.5,1170.0" fill="none" stroke="#000" stroke-width="3" stroke-linejoin="round"/>
<line x1="401.5" y1="950.2" x2="437" y2="950.2" stroke="#000" stroke-width="3" />
<line x1="401.5" y1="969.8" x2="419" y2="969.8" stroke="#000" stroke-width="3" />
<line x1="425" y1="969.8" x2="437" y2="969.8" stroke="#000" stroke-width="3" />
<line x1="401.5" y1="986.5" x2="437" y2="986.5" stroke="#000" stroke-width="2.4" stroke-dasharray="2,2.2"/>
<text x="444" y="955.6" font-size="14" font-weight="normal" text-anchor="start" class="h" >Untx</text>
<text x="444" y="975" font-size="14" font-weight="normal" text-anchor="start" class="h" >Sal 6 µM</text>
<text x="444" y="991.8" font-size="14" font-weight="normal" text-anchor="start" class="h" >Sal 12 µM</text>
</svg>
</body></html>
